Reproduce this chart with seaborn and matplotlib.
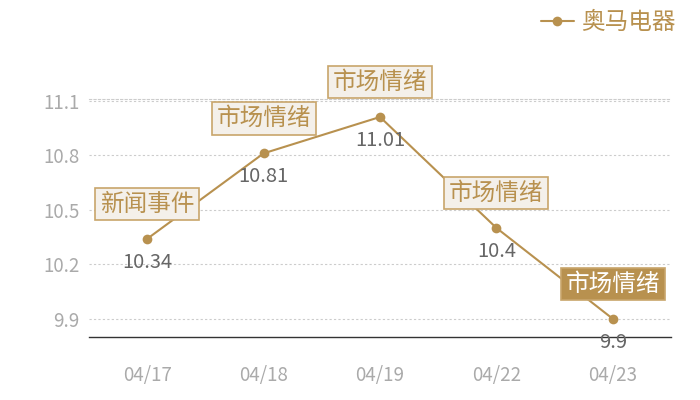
import matplotlib
matplotlib.use('Agg')
import matplotlib.pyplot as plt
import matplotlib.lines as mlines
import pandas as pd
import seaborn as sns

dates = ['04/17', '04/18', '04/19', '04/22', '04/23']
prices = [10.34, 10.81, 11.01, 10.4, 9.9]
events = ['新闻事件', '市场情绪', '市场情绪', '市场情绪', '市场情绪']
yticks = [9.9, 10.2, 10.5, 10.8, 11.1]
series_name = '奥马电器'

gold = '#b8914f'
box_fill = '#f4f0ea'
box_edge = '#c8a56b'

sns.set_style('white')
plt.rcParams['font.family'] = ['Noto Sans CJK SC', 'DejaVu Sans']

df = pd.DataFrame({'date': dates, 'price': prices})
df['pos'] = range(len(df))

fig = plt.figure(figsize=(7, 4), dpi=100)
ax = fig.add_axes([89 / 700, 63 / 400, (671 - 89) / 700, 0.5955])

sns.lineplot(data=df, x='pos', y='price', ax=ax, color=gold, linewidth=1.5,
             marker='o', markersize=7, markeredgewidth=0, zorder=3)

ax.set_xlim(-0.5, len(dates) - 0.5)
ax.set_ylim(9.8, 11.11)
ax.set_xticks(df['pos'])
ax.set_xticklabels(dates)
ax.set_yticks(yticks)
ax.set_yticklabels([f'{v:g}' for v in yticks])
ax.set_xlabel('')
ax.set_ylabel('')
ax.tick_params(axis='both', length=0, labelsize=13.5, labelcolor='#aaaaaa')
ax.tick_params(axis='x', pad=20)
ax.tick_params(axis='y', pad=7)

for v in yticks:
    ax.axhline(v, color='#cccccc', linewidth=0.8, linestyle=(0, (2, 2)), zorder=0)

for s in ['left', 'right']:
    ax.spines[s].set_visible(False)
ax.spines['top'].set_color('#cccccc')
ax.spines['top'].set_linewidth(0.8)
ax.spines['top'].set_linestyle((0, (2, 2)))
ax.spines['bottom'].set_color('#333333')
ax.spines['bottom'].set_linewidth(1.0)

for i, (p, ev) in enumerate(zip(prices, events)):
    ax.annotate(f'{p:g}', (i, p), xytext=(0, -17), textcoords='offset points',
                ha='center', va='center', fontsize=14.5, color='#666666', zorder=4)
    last = i == len(prices) - 1
    ax.annotate(ev, (i, p), xytext=(0, 25), textcoords='offset points',
                ha='center', va='center', fontsize=17,
                color='white' if last else gold, zorder=5,
                bbox=dict(boxstyle='square,pad=0.2',
                          facecolor=gold if last else box_fill,
                          edgecolor=box_edge, linewidth=1.2))

handle = mlines.Line2D([], [], color=gold, marker='o', markersize=7,
                       markeredgewidth=0, linewidth=1.5)
fig.legend([handle], [series_name], loc='upper right', bbox_to_anchor=(0.995, 1.025),
           frameon=False, fontsize=17, labelcolor=gold, handlelength=1.4,
           handletextpad=0.3)

fig.savefig('out.png', dpi=100)
